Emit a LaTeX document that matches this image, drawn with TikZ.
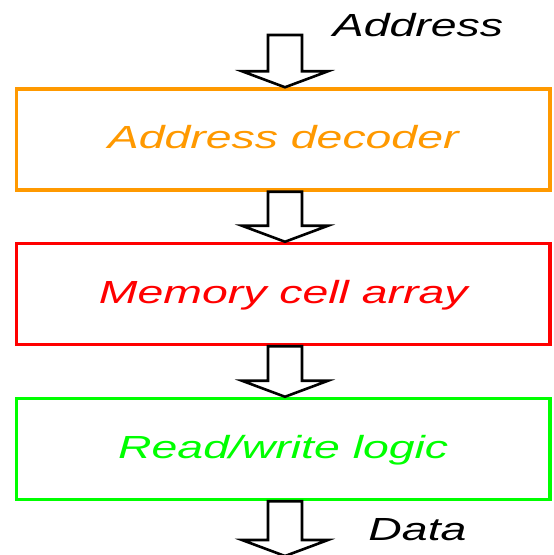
\documentclass[tikz,border=0pt]{standalone}
\usepackage{graphicx}
\usepackage{fontspec}
\setmainfont{Liberation Sans}
\usepackage{tikz}
\usetikzlibrary{calc}
\definecolor{decorange}{RGB}{255,153,0}
\definecolor{memred}{RGB}{255,0,0}
\definecolor{rwgreen}{RGB}{0,255,0}
\newcommand{\widetext}[1]{\scalebox{1.45}[1]{\itshape #1}}
\newcommand{\hollowarrow}[2]{%
  \draw[arrowline] ($(#1)+(-17,0)$) -- ($(#2)+(-17,-16)$) -- ($(#2)+(-43,-16)$) -- (#2)
    -- ($(#2)+(43,-16)$) -- ($(#2)+(17,-16)$) -- ($(#1)+(17,0)$) -- cycle;}

\begin{document}
\begin{tikzpicture}[x=1pt, y=-1pt,
    unitbox/.style={draw, line width=3.5pt, minimum width=533.5pt, minimum height=101pt,
      text height=23pt, text depth=5pt, font=\fontsize{32}{36}\selectfont},
    iotext/.style={anchor=base, font=\fontsize{32}{36}\selectfont},
    arrowline/.style={draw=black, line width=2.6pt, fill=white}]
\useasboundingbox (0,0) rectangle (554,555);
\node[unitbox, decorange] (dec) at (283.25,139.5) {\widetext{Address decoder}};
\node[unitbox, memred] (mem) at (283.25,294) {\widetext{Memory cell array}};
\node[unitbox, rwgreen] (rw) at (283.25,449) {\widetext{Read/write logic}};
\node[iotext] (addr) at (418,36) {\widetext{Address}};
\node[iotext] (data) at (417.5,540) {\widetext{Data}};
% arrow ends
\coordinate (a0) at (285,35);
\coordinate (a1) at (a0 |- dec.north);
\coordinate (b0) at (a0 |- dec.south);
\coordinate (b1) at (a0 |- mem.north);
\coordinate (c0) at (a0 |- mem.south);
\coordinate (c1) at (a0 |- rw.north);
\coordinate (d0) at (a0 |- rw.south);
\coordinate (d1) at (285,556);
\hollowarrow{a0}{a1}
\hollowarrow{b0}{b1}
\hollowarrow{c0}{c1}
\hollowarrow{d0}{d1}
\end{tikzpicture}
\end{document}
